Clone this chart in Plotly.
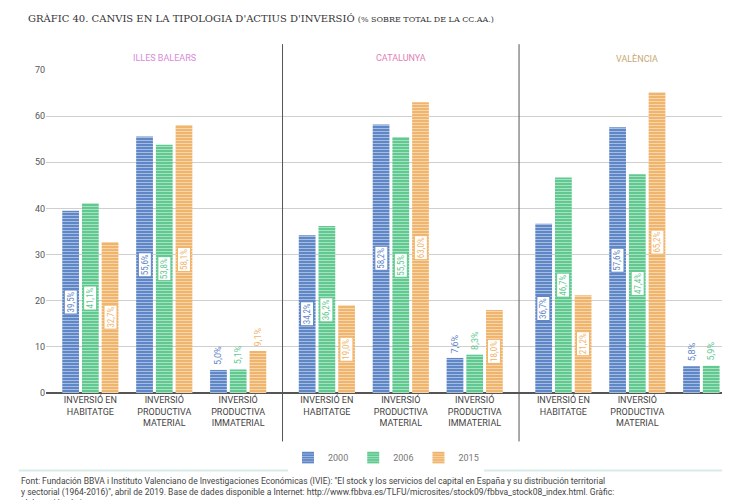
import plotly.graph_objects as go

regions = ["ILLES BALEARS", "CATALUNYA", "VALÈNCIA"]
region_colors = ["#d98ad8", "#e27fb5", "#c9a873"]
groups = ["INVERSIÓ EN<br>HABITATGE", "INVERSIÓ<br>PRODUCTIVA<br>MATERIAL", "INVERSIÓ<br>PRODUCTIVA<br>IMMATERIAL"]
years = ["2000", "2006", "2015"]
colors = ["#5f86c6", "#5fc98f", "#f0b56c"]

# values per year, order: Balears (3 groups), Catalunya, València
v2000 = [39.5, 55.6, 5.0, 34.2, 58.2, 7.6, 36.7, 57.6, 5.8]
v2006 = [41.1, 53.8, 5.1, 36.2, 55.5, 8.3, 46.7, 47.4, 5.9]
v2015 = [32.7, 58.1, 9.1, 19.0, 63.0, 18.0, 21.2, 65.2, 13.5]
series = [v2000, v2006, v2015]

xs = [r * 3.2 + g for r in range(3) for g in range(3)]
ticktext = groups * 3

fig = go.Figure()
for yr, vals, col in zip(years, series, colors):
    fig.add_trace(go.Bar(
        x=xs, y=vals, name=yr,
        marker=dict(color=col, line=dict(width=0),
                    pattern=dict(shape="-", fgcolor="white", size=3, solidity=0.3)),
    ))

w = 0.8 / 3
annotations = []
for i, (vals, col) in enumerate(zip(series, colors)):
    for x, v in zip(xs, vals):
        xp = x + (i - 1) * w
        txt = f"{v:.1f}%".replace(".", ",")
        if v > 12:
            annotations.append(dict(x=xp, y=v / 2, text=txt, textangle=-90, showarrow=False,
                                    font=dict(size=9, color=col, family="Roboto Condensed, Roboto"),
                                    bgcolor="white", bordercolor=col, borderwidth=1, borderpad=1))
        else:
            annotations.append(dict(x=xp, y=v, text=txt, textangle=-90, showarrow=False,
                                    yanchor="bottom", yshift=3,
                                    font=dict(size=9, color=col, family="Roboto")))

for r, (name, c) in enumerate(zip(regions, region_colors)):
    annotations.append(dict(x=r * 3.2 + 1, y=1.06, yref="paper", text=name, showarrow=False,
                            font=dict(size=9, color=c, family="Roboto")))

annotations.append(dict(x=-0.03, y=1.16, xref="paper", yref="paper", xanchor="left", yanchor="middle",
                        text="GRÀFIC 40. CANVIS EN LA TIPOLOGIA D'ACTIUS D'INVERSIÓ <span style='font-size:8px'>(% SOBRE TOTAL DE LA CC.AA.)</span>",
                        showarrow=False, font=dict(size=10, color="#333", family="DejaVu Serif")))
footer = ("Font: Fundación BBVA i Instituto Valenciano de Investigaciones Económicas (IVIE): \"El stock y los servicios del capital en España y su distribución territorial<br>"
          "y sectorial (1964-2016)\", abril de 2019. Base de dades disponible a Internet: http://www.fbbva.es/TLFU/microsites/stock09/fbbva_stock08_index.html. Gràfic:<br>"
          "elaboració pròpia.")
annotations.append(dict(x=-0.04, y=-0.25, xref="paper", yref="paper", xanchor="left", yanchor="top",
                        text=footer, align="left", showarrow=False,
                        font=dict(size=8.5, color="#444", family="Roboto")))

shapes = [dict(type="line", xref="x", yref="paper", x0=d, x1=d, y0=-0.15, y1=1.08,
               line=dict(color="#555", width=1)) for d in (2.6, 5.8)]
shapes.append(dict(type="line", xref="paper", yref="paper", x0=-0.04, x1=1.0, y0=-0.24, y1=-0.24,
                   line=dict(color="#d8ebe8", width=2)))

fig.update_layout(
    width=730, height=500, plot_bgcolor="white", paper_bgcolor="white",
    margin=dict(l=38, r=12, t=62, b=115),
    barmode="group", bargap=0.2, bargroupgap=0.15,
    xaxis=dict(tickmode="array", tickvals=xs, ticktext=ticktext, range=[-0.6, 8.6],
               tickfont=dict(size=9, color="#444", family="Roboto"), showgrid=False,
               ticks="", zeroline=False),
    yaxis=dict(range=[0, 70], dtick=10, gridcolor="#cfcfcf", zeroline=True, zerolinecolor="#555",
               tickfont=dict(size=9, color="#555", family="Roboto"), ticks=""),
    legend=dict(orientation="h", x=0.5, xanchor="center", y=-0.2, yanchor="middle",
                font=dict(size=9, color="#777", family="Roboto")),
    annotations=annotations, shapes=shapes,
)
fig.write_html("out.html")
